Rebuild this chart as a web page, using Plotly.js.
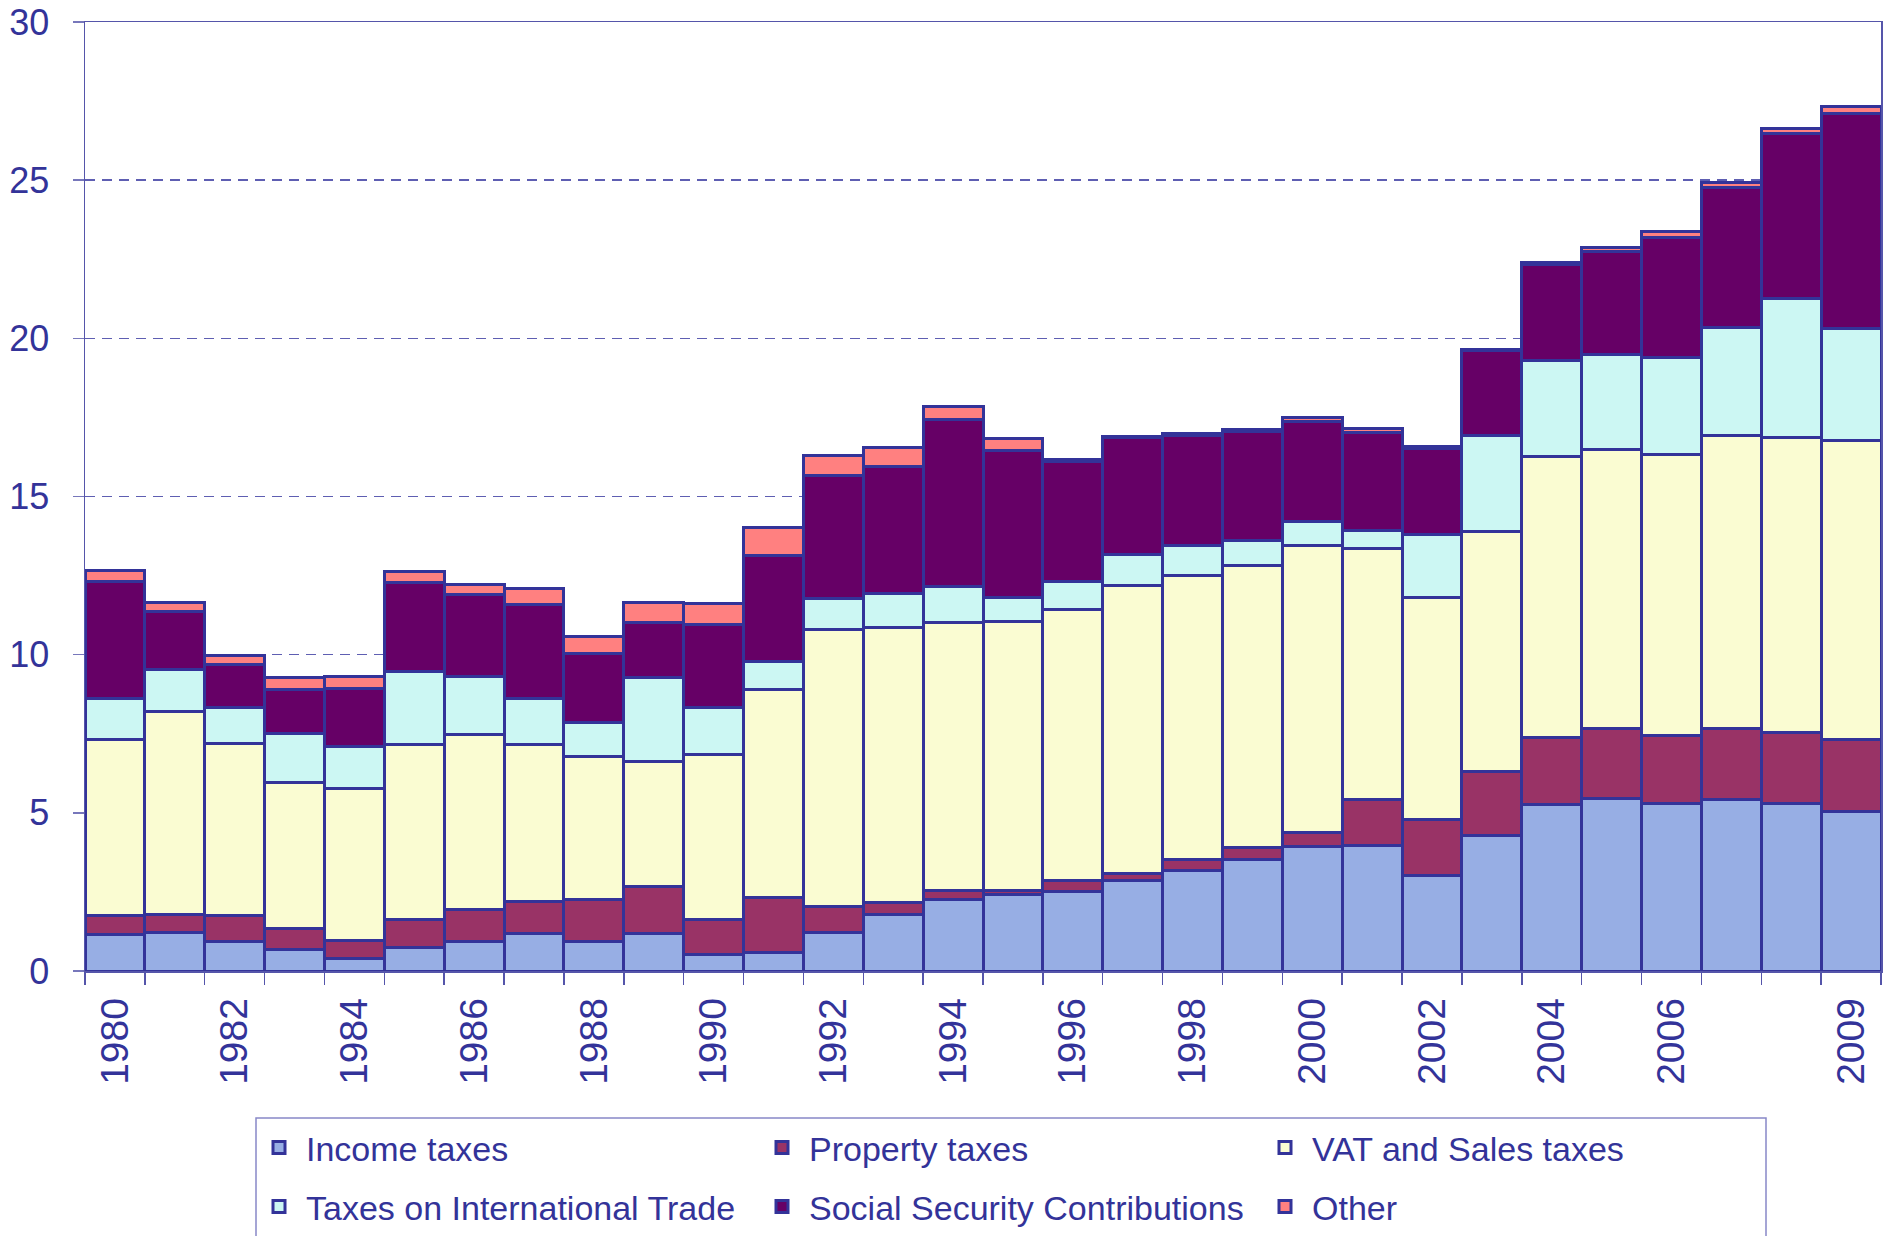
<!DOCTYPE html>
<html>
<head>
<meta charset="utf-8">
<script src="https://cdn.plot.ly/plotly-3.0.1.min.js"></script>
<style>html,body{margin:0;padding:0;background:#fff;}#chart{width:1887px;height:1236px;}</style>
</head>
<body>
<div id="chart"></div>
<script>
var years = [1980,1981,1982,1983,1984,1985,1986,1987,1988,1989,1990,1991,1992,1993,1994,1995,1996,1997,1998,1999,2000,2001,2002,2003,2004,2005,2006,2007,2008,2009];
var tickYears = [1980,1982,1984,1986,1988,1990,1992,1994,1996,1998,2000,2002,2004,2006,2009];
var tickLabels = ["1980","1982","1984","1986","1988","1990","1992","1994","1996","1998","2000","2002","2004","2006","2009"];

var incomeTaxes   = [1.14,1.22,0.93,0.69,0.38,0.75,0.93,1.19,0.93,1.19,0.53,0.59,1.21,1.80,2.26,2.42,2.50,2.85,3.18,3.51,3.94,3.96,3.03,4.27,5.27,5.46,5.31,5.42,5.31,5.04];
var propertyTaxes = [0.61,0.58,0.84,0.64,0.60,0.89,1.03,1.00,1.32,1.48,1.09,1.73,0.83,0.37,0.30,0.13,0.35,0.24,0.33,0.39,0.45,1.46,1.76,2.05,2.11,2.20,2.12,2.24,2.22,2.28];
var vatSales      = [5.56,6.41,5.41,4.64,4.78,5.51,5.51,4.96,4.53,3.95,5.22,6.57,8.77,8.69,8.47,8.51,8.58,9.11,9.00,8.93,9.07,7.93,7.03,7.57,8.90,8.82,8.91,9.26,9.33,9.44];
var intlTrade     = [1.29,1.32,1.16,1.55,1.33,2.32,1.84,1.46,1.09,2.66,1.49,0.90,0.97,1.08,1.11,0.75,0.88,0.96,0.94,0.79,0.75,0.58,1.97,3.03,3.01,3.02,3.05,3.42,4.40,3.55];
var socialSec     = [3.72,1.82,1.36,1.39,1.84,2.82,2.59,2.99,2.18,1.74,2.63,3.33,3.88,4.01,5.29,4.64,3.81,3.71,3.49,3.42,3.16,3.10,2.72,2.68,3.03,3.26,3.79,4.43,5.23,6.80];
var otherTaxes    = [0.35,0.31,0.27,0.37,0.37,0.35,0.32,0.50,0.53,0.62,0.65,0.90,0.63,0.59,0.43,0.39,0.04,0.04,0.06,0.08,0.13,0.11,0.06,0.04,0.09,0.11,0.19,0.17,0.14,0.23];

var seriesNames  = ["Income taxes","Property taxes","VAT and Sales taxes","Taxes on International Trade","Social Security Contributions","Other"];
var seriesValues = [incomeTaxes, propertyTaxes, vatSales, intlTrade, socialSec, otherTaxes];
var seriesColors = ["#97AEE4","#993366","#FAFCD2","#CCF7F3","#660066","#FF8080"];
var seriesLegend = ["legend","legend","legend","legend2","legend2","legend2"];

var ink = "#333399";
var traces = seriesNames.map(function(n, i){
  return {
    type: "bar", name: n, x: years, y: seriesValues[i], width: 1,
    legend: seriesLegend[i],
    marker: {color: seriesColors[i], line: {color: ink, width: 3}},
    hoverinfo: "skip"
  };
});

var W = 1887, H = 1236;
var legendCommon = {
  orientation: "h", xref: "container", yref: "container",
  xanchor: "left", yanchor: "top", traceorder: "normal",
  entrywidth: 444, entrywidthmode: "pixels",
  font: {family: "Liberation Sans, Arial, sans-serif", size: 34, color: ink},
  bgcolor: "rgba(0,0,0,0)", borderwidth: 0, itemwidth: 44
};
var legend1 = Object.assign({}, legendCommon, {x: 252/W, y: 1 - 1119/H});
var legend2 = Object.assign({}, legendCommon, {x: 252/W, y: 1 - 1178/H});

var layout = {
  width: W, height: H,
  margin: {l: 85, r: 6, t: 22, b: 265, pad: 0},
  paper_bgcolor: "#fff", plot_bgcolor: "#fff",
  barmode: "stack", bargap: 0,
  showlegend: true,
  legend: legend1,
  legend2: legend2,
  font: {family: "Liberation Sans, Arial, sans-serif", color: ink},
  xaxis: {
    type: "linear", range: [1979.5, 2009.5],
    tickmode: "array", tickvals: tickYears, ticktext: tickLabels,
    tickangle: -90, ticks: "", ticklabelstandoff: 10,
    tickfont: {size: 39, color: ink},
    showgrid: false, zeroline: false,
    showline: true, linecolor: "#5555AA", linewidth: 1.5, mirror: true,
    minor: {ticks: "outside", tick0: 1979.5, dtick: 1, ticklen: 12, tickcolor: "#5555AA", tickwidth: 1.5, showgrid: false}
  },
  yaxis: {
    range: [0, 30], dtick: 5, tick0: 0,
    ticks: "outside", ticklen: 11, tickcolor: "#7777BB", tickwidth: 1.5,
    ticklabelstandoff: 16,
    tickfont: {size: 36, color: ink},
    showgrid: true, gridcolor: "#5E5EB2", griddash: "10px,7px", gridwidth: 1.4,
    zeroline: false,
    showline: true, linecolor: "#5555AA", linewidth: 1.5, mirror: true
  },
  shapes: [{
    type: "rect", xref: "paper", yref: "paper",
    x0: (256-85)/1796, x1: (1766-85)/1796,
    y0: (971-1250)/949, y1: (971-1118)/949,
    line: {color: "#8888C8", width: 1.5}, fillcolor: "rgba(0,0,0,0)"
  }],
  hovermode: false
};

Plotly.newPlot("chart", traces, layout, {displayModeBar: false, staticPlot: true});
</script>
</body>
</html>
